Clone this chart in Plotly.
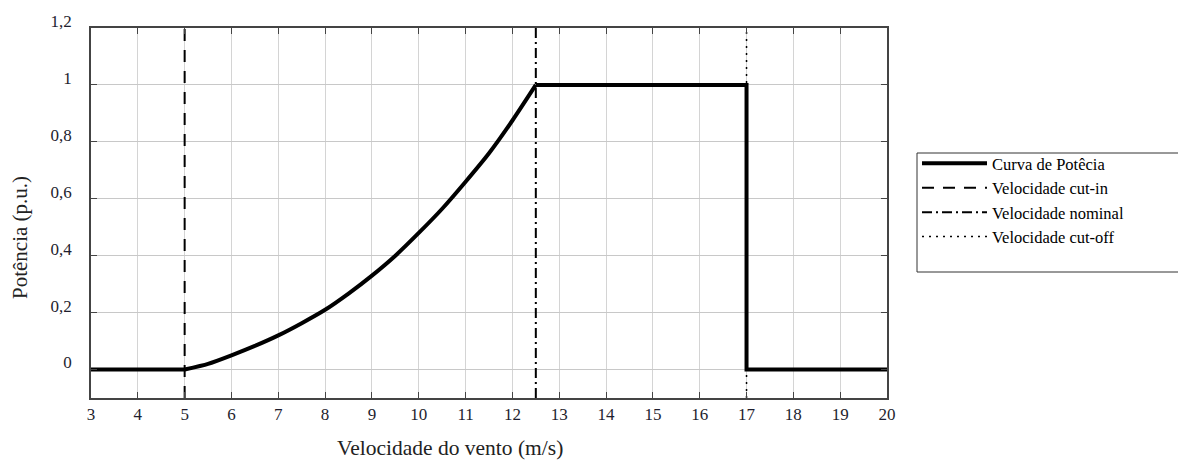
import plotly.graph_objects as go

# Data
wind_speed = [3, 5, 5.5, 6, 6.5, 7, 7.5, 8, 8.5, 9, 9.5, 10, 10.5, 11, 11.5, 12, 12.5, 17, 17, 20]
power_pu = [0, 0, 0.02, 0.05, 0.083, 0.12, 0.163, 0.21, 0.267, 0.33, 0.40, 0.48, 0.565, 0.66, 0.76, 0.875, 1.0, 1.0, 0, 0]
cut_in = 5
nominal = 12.5
cut_off = 17
y_limits = [-0.1, 1.2]
x_limits = [3, 20]
x_ticks = list(range(3, 21))
y_ticks = [0, 0.2, 0.4, 0.6, 0.8, 1.0, 1.2]

FONT = "'Liberation Serif', 'Times New Roman', serif"
TXT = "#1e1e2e"

fig = go.Figure()
# flat start, rising part (smoothed), plateau and drop
fig.add_trace(go.Scatter(x=wind_speed[1:17], y=power_pu[1:17], mode="lines",
                         line=dict(color="black", width=4, shape="spline", smoothing=0.6),
                         name="Curva de Potêcia", legendgroup="p"))
fig.add_trace(go.Scatter(x=wind_speed[:2], y=power_pu[:2], mode="lines",
                         line=dict(color="black", width=4),
                         showlegend=False, legendgroup="p"))
fig.add_trace(go.Scatter(x=wind_speed[16:], y=power_pu[16:], mode="lines",
                         line=dict(color="black", width=4),
                         showlegend=False, legendgroup="p"))
fig.add_trace(go.Scatter(x=[cut_in, cut_in], y=y_limits, mode="lines",
                         line=dict(color="black", width=2, dash="12px,9px"),
                         name="Velocidade cut-in"))
fig.add_trace(go.Scatter(x=[nominal, nominal], y=y_limits, mode="lines",
                         line=dict(color="black", width=2, dash="10px,4px,2px,4px"),
                         name="Velocidade nominal"))
fig.add_trace(go.Scatter(x=[cut_off, cut_off], y=y_limits, mode="lines",
                         line=dict(color="black", width=1.5, dash="2px,5px"),
                         name="Velocidade cut-off"))

L, R, T, B = 91, 291, 28, 63
W, H = 1178, 461
pw = W - L - R
ph = H - T - B

def px_x(px):
    return (px - L) / pw

def px_y(py):
    return (H - B - py) / ph

fig.update_layout(
    width=W, height=H,
    margin=dict(l=L, r=R, t=T, b=B, pad=0),
    paper_bgcolor="white", plot_bgcolor="white",
    separators=",.",
    font=dict(family=FONT, color=TXT, size=15),
    showlegend=True,
    legend=dict(x=px_x(917), y=px_y(146), xanchor="left", yanchor="top",
                bgcolor="rgba(0,0,0,0)", borderwidth=0,
                font=dict(family=FONT, size=16.5, color="black"),
                itemwidth=65, tracegroupgap=0),
    xaxis=dict(range=x_limits, tickvals=x_ticks, showgrid=True,
               gridcolor="#d4d4d4", gridwidth=1, zeroline=False,
               showline=True, linecolor="#444", linewidth=1.5, mirror="ticks",
               ticks="inside", ticklen=6, tickcolor="#444",
               tickfont=dict(family=FONT, size=17, color=TXT)),
    yaxis=dict(range=y_limits, tickvals=y_ticks, showgrid=True,
               gridcolor="#c8c8c8", gridwidth=1, zeroline=False,
               showline=True, linecolor="#444", linewidth=1.5, mirror="ticks",
               ticks="inside", ticklen=6, tickcolor="#444",
               ticklabelstandoff=14, ticklabelshift=-7,
               tickfont=dict(family=FONT, size=17, color=TXT)),
    shapes=[dict(type="rect", xref="paper", yref="paper",
                 x0=px_x(917), x1=px_x(1300), y0=px_y(272), y1=px_y(153),
                 line=dict(color="#333", width=1), fillcolor="rgba(0,0,0,0)")],
    annotations=[
        dict(text="Velocidade do vento (m/s)", xref="paper", yref="paper",
             x=px_x(450), y=px_y(448), xanchor="center", yanchor="middle",
             showarrow=False, font=dict(family=FONT, size=21.5, color="#222")),
        dict(text="Potência (p.u.)", xref="paper", yref="paper",
             x=px_x(20), y=px_y(238), xanchor="center", yanchor="middle",
             textangle=-90, showarrow=False,
             font=dict(family=FONT, size=21, color="#222")),
    ],
)

fig.write_html("out.html")
